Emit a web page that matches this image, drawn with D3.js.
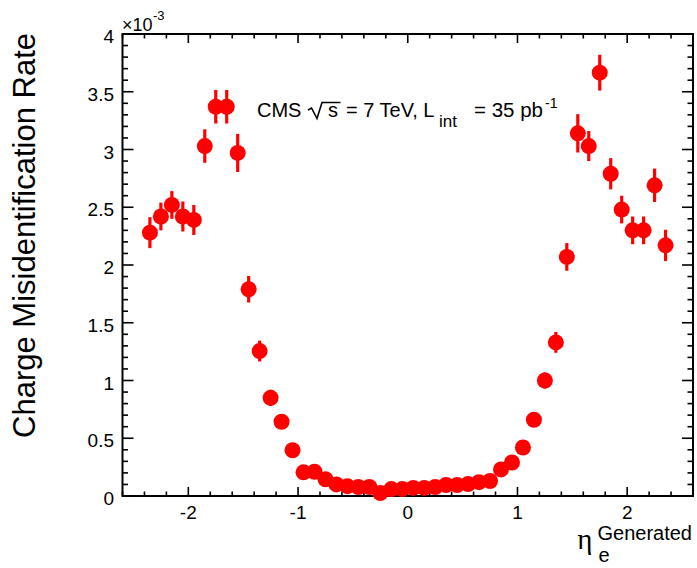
<!DOCTYPE html>
<html><head><meta charset="utf-8">
<script src="https://cdn.jsdelivr.net/npm/d3@7"></script>
<style>
html,body{margin:0;padding:0;background:#fff;}
svg{display:block;}
text{font-family:"Liberation Sans",Arial,Helvetica,sans-serif;fill:#000;white-space:pre;}
</style></head>
<body>
<svg id="c" width="697" height="568"></svg>
<script>
// bin centres (eta of generated electron)
const etaBins = [-2.35,-2.25,-2.15,-2.05,-1.95,-1.85,-1.75,-1.65,-1.55,-1.45,-1.35,-1.25,-1.15,-1.05,-0.95,-0.85,-0.75,-0.65,-0.55,-0.45,-0.35,-0.25,-0.15,-0.05,
  0.05,0.15,0.25,0.35,0.45,0.55,0.65,0.75,0.85,0.95,1.05,1.15,1.25,1.35,1.45,1.55,1.65,1.75,1.85,1.95,2.05,2.15,2.25,2.35];
// charge misidentification rate, in units of 1e-3
const rateValues = [2.28,2.42,2.52,2.42,2.39,3.03,3.37,3.37,2.97,1.79,1.255,0.85,0.643,0.396,0.205,0.21,0.145,0.10,0.085,0.078,0.078,0.026,0.06,0.06,
  0.07,0.07,0.078,0.095,0.095,0.104,0.12,0.13,0.23,0.29,0.42,0.66,1.00,1.33,2.07,3.14,3.03,3.665,2.79,2.48,2.30,2.30,2.69,2.17];
const rateErrors = [0.134,0.12,0.12,0.13,0.13,0.145,0.145,0.145,0.165,0.115,0.09,0.07,0.06,0.045,0.035,0.035,0.03,0.025,0.02,0.02,0.02,0.015,0.02,0.02,
  0.02,0.02,0.02,0.02,0.02,0.025,0.025,0.03,0.035,0.04,0.045,0.06,0.07,0.09,0.12,0.166,0.13,0.155,0.135,0.12,0.12,0.12,0.145,0.135];
const xMajorTicks = [-2,-1,0,1,2];
const yMajorTicks = [0,0.5,1,1.5,2,2.5,3,3.5,4];
const yTickLabels = ["0","0.5","1","1.5","2","2.5","3","3.5","4"];
const xTickLabels = ["-2","-1","0","1","2"];

const svg = d3.select("#c");
const L = 122.5, R = 693, T = 34, B = 496;
const x = d3.scaleLinear().domain([-2.6, 2.6]).range([L, R]);
const y = d3.scaleLinear().domain([0, 4]).range([B, T]);

const xMinor = d3.range(-26, 27, 2).map(v => v / 10).filter(v => Math.abs(v - Math.round(v)) > 1e-6);
const yMinor = d3.range(0, 41).map(v => v / 10).filter(v => Math.abs(v*2 - Math.round(v*2)) > 1e-6);

const g = svg.append("g");
// ticks
const tk = g.append("g").attr("stroke", "#000").attr("stroke-width", 1.6);
xMajorTicks.forEach(v => {
  tk.append("line").attr("x1", x(v)).attr("x2", x(v)).attr("y1", B).attr("y2", B - 9);
  tk.append("line").attr("x1", x(v)).attr("x2", x(v)).attr("y1", T).attr("y2", T + 9);
});
xMinor.forEach(v => {
  tk.append("line").attr("x1", x(v)).attr("x2", x(v)).attr("y1", B).attr("y2", B - 4.5);
  tk.append("line").attr("x1", x(v)).attr("x2", x(v)).attr("y1", T).attr("y2", T + 4.5);
});
yMajorTicks.forEach(v => {
  tk.append("line").attr("y1", y(v)).attr("y2", y(v)).attr("x1", L).attr("x2", L + 11);
  tk.append("line").attr("y1", y(v)).attr("y2", y(v)).attr("x1", R).attr("x2", R - 11);
});
yMinor.forEach(v => {
  tk.append("line").attr("y1", y(v)).attr("y2", y(v)).attr("x1", L).attr("x2", L + 5.5);
  tk.append("line").attr("y1", y(v)).attr("y2", y(v)).attr("x1", R).attr("x2", R - 5.5);
});
// frame
g.append("rect").attr("x", L).attr("y", T).attr("width", R - L).attr("height", B - T)
  .attr("fill", "none").attr("stroke", "#000").attr("stroke-width", 2);

// tick labels
xMajorTicks.forEach((v, i) => {
  g.append("text").attr("x", x(v)).attr("y", 519).attr("text-anchor", "middle")
    .attr("font-size", 19).text(xTickLabels[i]);
});
yMajorTicks.forEach((v, i) => {
  g.append("text").attr("x", 114).attr("y", y(v) + 9).attr("text-anchor", "end")
    .attr("font-size", 19).text(yTickLabels[i]);
});
// exponent
g.append("text").attr("x", 122).attr("y", 31).attr("font-size", 18).text("\u00d710");
g.append("text").attr("x", 153).attr("y", 20).attr("font-size", 13).text("-3");

// y title
g.append("text").attr("transform", "translate(35,33) rotate(-90)")
  .attr("text-anchor", "end").attr("font-size", 31).text("Charge Misidentification Rate");

// x title
const xt = g.append("g");
const eta = xt.append("text").attr("y", 549).attr("font-size", 29)
  .style("font-family", "'Liberation Serif','DejaVu Serif',serif").text("\u03b7");
const sup = xt.append("text").attr("y", 540).attr("font-size", 20).text("Generated");
const sub = xt.append("text").attr("y", 562).attr("font-size", 20).text("e");
const supW = sup.node().getComputedTextLength();
const etaW = eta.node().getComputedTextLength();
const supX = 692 - supW;
sup.attr("x", supX);
sub.attr("x", supX + 1);
eta.attr("x", supX - etaW - 5);

// data
const pts = etaBins.map((e, i) => ({e, v: rateValues[i], err: rateErrors[i]}));
const dg = g.append("g");
dg.selectAll("line.err").data(pts).enter().append("line")
  .attr("x1", d => x(d.e)).attr("x2", d => x(d.e))
  .attr("y1", d => y(d.v - d.err)).attr("y2", d => y(d.v + d.err))
  .attr("stroke", "#ff0000").attr("stroke-width", 3.2);
dg.selectAll("circle").data(pts).enter().append("circle")
  .attr("cx", d => x(d.e)).attr("cy", d => y(d.v)).attr("r", 8)
  .attr("fill", "#ff0000");

// legend text
const lg = g.append("g");
const base = 117;
lg.append("text").attr("x", 257).attr("y", base).attr("font-size", 20).text("CMS");
lg.append("path").attr("d", `M308,110 L311.5,108 L317,118.5 L322,102.5 L340.5,102.5`)
  .attr("fill", "none").attr("stroke", "#000").attr("stroke-width", 1.6);
lg.append("text").attr("x", 328).attr("y", base).attr("font-size", 20).text("s");
lg.append("text").attr("x", 346).attr("y", base).attr("font-size", 20).text("= 7 TeV, L");
lg.append("text").attr("x", 439).attr("y", base + 10).attr("font-size", 17).text("int");
lg.append("text").attr("x", 474).attr("y", base).attr("font-size", 20.5).text("= 35 pb");
lg.append("text").attr("x", 545).attr("y", base - 9).attr("font-size", 14).text("-1");
</script>
</body></html>
